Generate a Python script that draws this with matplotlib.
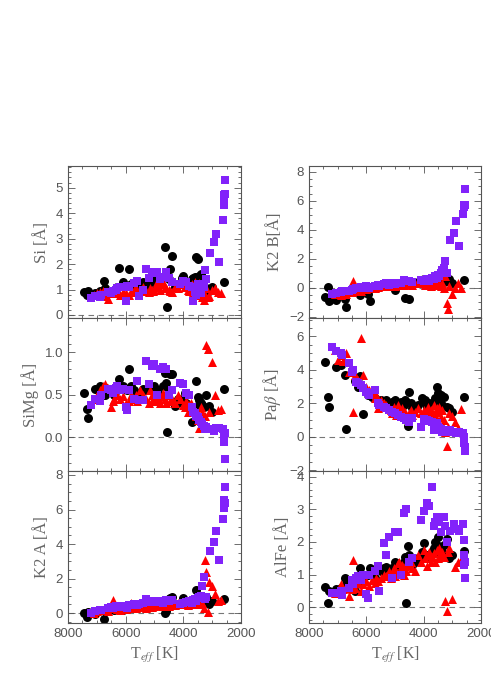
import numpy as np
import matplotlib
matplotlib.use('Agg')
import matplotlib.pyplot as plt
from matplotlib.ticker import MultipleLocator

plt.rcParams['font.family'] = ['Liberation Sans', 'DejaVu Sans']
plt.rcParams['mathtext.fontset'] = 'stix'

# black circles
t_blk = [7430, 7350, 7300, 7060, 6900, 6750, 6700, 6400, 6300, 6220, 6100, 5950, 5880, 5800, 5700,
         5500, 5400, 5300, 5200, 5100, 5000, 4950, 4900, 4800, 4700, 4650, 4600, 4550, 4500, 4450,
         4400, 4300, 4200, 4050, 4000, 3950, 3900, 3800, 3700, 3650, 3600, 3550, 3500, 3450, 3400,
         3350, 3300, 3200, 3100, 3000, 2600]
si_blk = [0.92, 0.78, 0.95, 0.85, 0.95, 1.32, 1.05, 0.95, 1.1, 1.86, 1.3, 1.15, 1.8, 1.2, 1.05,
          1.2, 1.3, 1.1, 1.25, 1.4, 1.5, 1.2, 1.45, 1.3, 1.5, 2.68, 1.55, 0.33, 1.4, 1.8,
          2.3, 1.1, 1.2, 1.45, 1.55, 1.3, 1.1, 1.2, 1.4, 1.45, 1.5, 2.27, 2.2, 1.55, 1.6,
          1.3, 1.1, 1.05, 0.95, 1.1, 1.29]
simg_blk = [0.52, 0.33, 0.22, 0.56, 0.6, 0.59, 0.5, 0.5, 0.55, 0.68, 0.6, 0.55, 0.8, 0.6, 0.55,
            0.5, 0.56, 0.55, 0.59, 0.55, 0.6, 0.52, 0.55, 0.5, 0.6, 0.75, 0.64, 0.055, 0.55, 0.74,
            0.74, 0.36, 0.45, 0.4, 0.45, 0.52, 0.4, 0.35, 0.18, 0.3, 0.35, 0.66, 0.47, 0.43, 0.4,
            0.38, 0.35, 0.49, 0.36, 0.3, 0.57]
k2a_blk = [0.0, -0.25, 0.05, -0.05, 0.15, -0.37, 0.1, 0.2, 0.25, 0.3, 0.2, 0.3, 0.35, 0.3, 0.4,
           0.45, 0.5, 0.4, 0.55, 0.5, 0.6, 0.5, 0.55, 0.6, 0.6, 0.0, 0.1, 0.6, 0.8, 0.85,
           0.91, 0.5, 0.55, 0.6, 0.85, 0.7, 0.6, 0.7, 0.6, 0.65, 0.7, 1.33, 0.9, 0.7, 0.8,
           0.6, 0.7, 0.9, 0.5, 0.7, 0.79]
k2b_blk = [-0.62, 0.07, -0.9, -0.85, -0.5, -0.8, -1.3, -0.3, -0.2, -0.5, -0.1, -0.4, -0.9, 0.0, 0.0,
           0.1, 0.1, 0.2, 0.15, 0.2, -0.15, 0.2, 0.3, 0.25, 0.3, -0.7, 0.3, 0.35, -0.75, 0.3,
           0.4, 0.3, 0.4, 0.5, 0.6, 0.4, 0.45, 0.5, 0.4, 0.5, 0.5, 0.6, 0.5, 0.4, 0.5,
           0.6, 0.4, 0.5, 0.6, 0.3, 0.55]
pab_blk = [4.45, 2.38, 1.76, 4.2, 4.3, 3.7, 0.46, 3.36, 3.0, 3.65, 1.38, 2.5, 2.6, 2.4, 2.3,
           2.2, 2.1, 2.2, 2.0, 2.1, 2.2, 1.9, 2.0, 2.1, 1.9, 2.2, 2.1, 0.62, 2.7, 2.0,
           1.7, 1.8, 1.9, 2.3, 2.1, 2.2, 1.8, 2.0, 1.9, 2.1, 2.3, 3.0, 2.6, 2.2, 2.5,
           1.9, 2.4, 1.8, 1.7, 1.5, 2.38]
alfe_blk = [0.63, 0.14, 0.5, 0.55, 0.6, 0.89, 0.7, 0.5, 0.9, 1.19, 0.8, 1.0, 1.19, 1.05, 0.9,
            1.1, 1.2, 1.22, 1.0, 1.2, 1.4, 1.3, 1.2, 1.3, 1.4, 1.55, 0.12, 1.87, 1.6, 1.5,
            1.3, 1.4, 1.5, 1.7, 1.98, 1.55, 1.6, 1.5, 1.7, 1.8, 2.0, 1.9, 2.16, 1.7, 1.8,
            1.7, 1.9, 2.1, 1.5, 1.6, 1.73]

# red triangles
t_red = [7100, 7000, 6900, 6800, 6700, 6600, 6500, 6450, 6400, 6300, 6200, 6100, 6000, 5900, 5800,
         5700, 5650, 5600, 5500, 5400, 5300, 5200, 5150, 5100, 5050, 5000, 4950, 4900, 4850, 4800,
         4750, 4700, 4650, 4600, 4500, 4450, 4400, 4300, 4200, 4100, 4000, 3950, 3900, 3850, 3800,
         3750, 3700, 3650, 3600, 3550, 3500, 3450, 3400, 3350, 3300, 3250, 3200, 3150, 3100, 3000,
         2900, 2800, 2700]
si_red = [0.8, 0.85, 0.9, 0.95, 0.75, 0.63, 0.85, 0.9, 0.95, 0.85, 0.8, 0.9, 0.85, 0.8, 0.9,
          1.0, 1.05, 0.9, 1.0, 1.1, 0.95, 0.9, 1.05, 1.0, 0.95, 1.0, 1.1, 1.3, 1.2, 1.0,
          1.25, 1.3, 1.1, 1.05, 1.0, 0.95, 0.9, 1.1, 1.05, 1.3, 1.2, 1.1, 1.3, 1.0, 0.95,
          1.1, 1.2, 0.9, 1.3, 0.8, 1.1, 1.25, 0.85, 0.7, 0.6, 0.8, 1.05, 0.7, 0.75, 1.0,
          1.05, 0.9, 0.85]
simg_red = [0.45, 0.5, 0.55, 0.6, 0.62, 0.58, 0.35, 0.42, 0.45, 0.5, 0.45, 0.48, 0.4, 0.42, 0.5,
            0.45, 0.5, 0.42, 0.55, 0.5, 0.45, 0.4, 0.55, 0.5, 0.45, 0.42, 0.48, 0.5, 0.45, 0.4,
            0.48, 0.52, 0.45, 0.4, 0.5, 0.42, 0.45, 0.4, 0.5, 0.45, 0.38, 0.35, 0.42, 0.3, 0.38,
            0.4, 0.33, 0.35, 0.3, 0.25, 0.2, 0.11, 0.35, 0.3, 0.15, 0.25, 1.08, 1.04, 0.3, 0.88,
            0.5, 0.32, 0.33]
k2a_red = [0.0, 0.1, 0.2, 0.15, 0.2, 0.1, 0.3, 0.75, 0.3, 0.25, 0.2, 0.3, 0.25, 0.3, 0.6,
           0.35, 0.3, 0.4, 0.35, 0.4, 0.3, 0.45, 0.4, 0.35, 0.5, 0.4, 0.45, 0.5, 0.6, 0.45,
           0.4, 0.55, 0.5, 0.45, 0.4, 0.55, 0.5, 0.45, 0.6, 0.5, 0.55, 0.6, 0.5, 0.45, 0.6,
           0.55, 0.7, 0.5, 0.6, 0.55, 0.7, 0.5, 0.65, 0.6, 0.3, 3.07, 2.36, 0.05, 1.8, 1.56,
           1.08, 0.7, 0.75]
k2b_red = [-0.4, -0.3, -0.5, -0.3, -0.4, -0.2, -0.3, 0.5, -0.2, -0.1, -0.2, 0.0, -0.1, 0.0, 0.1,
           0.0, 0.1, 0.05, 0.1, 0.15, 0.1, 0.2, 0.1, 0.2, 0.15, 0.1, 0.2, 0.25, 0.2, 0.3,
           0.25, 0.2, 0.3, 0.25, 0.35, 0.3, 0.2, 0.3, 0.35, 0.4, 0.3, 0.2, 0.35, 0.4, 0.3,
           0.1, 0.4, 0.3, 0.2, 0.3, 0.4, 0.2, 0.1, 0.3, 0.0, 0.8, -1.03, -1.48, 0.1, -0.43,
           0.0, 0.3, 0.0]
pab_red = [5.2, 4.6, 4.9, 4.5, 5.0, 3.9, 4.0, 1.46, 3.7, 3.4, 5.9, 3.7, 3.0, 2.8, 2.6,
           2.3, 2.5, 1.7, 2.2, 2.0, 1.9, 1.7, 1.6, 1.4, 1.8, 1.5, 1.3, 1.9, 1.6, 1.4,
           1.7, 1.3, 1.5, 1.2, 1.4, 1.6, 1.3, 1.5, 1.7, 1.4, 1.6, 1.3, 1.5, 1.8, 1.4,
           1.6, 1.5, 1.9, 1.3, 1.7, 1.5, 1.8, 1.2, 1.6, 1.0, 0.3, -0.54, 0.6, 1.4, 1.25,
           0.9, 0.5, 1.65]
alfe_red = [0.45, 0.5, 0.7, 0.55, 0.6, 0.35, 0.55, 1.45, 0.6, 0.75, 0.5, 0.7, 0.8, 0.65, 0.85,
            0.75, 0.9, 0.8, 0.9, 1.0, 0.95, 1.1, 0.9, 1.0, 1.2, 0.95, 1.1, 1.35, 1.4, 1.2,
            1.3, 1.0, 1.25, 1.1, 1.3, 1.4, 1.2, 1.1, 1.6, 1.4, 1.75, 1.5, 1.25, 1.6, 1.7,
            1.4, 1.55, 1.65, 1.4, 1.75, 1.5, 1.8, 1.6, 1.7, 1.55, 0.2, -0.1, 1.7, 1.8, 0.24,
            1.22, 1.4, 1.45]

# purple squares
t_pur = [7200, 7050, 6900, 6850, 6600, 6500, 6450, 6350, 6300, 6200, 6100, 6000, 5950, 5900, 5700,
         5600, 5550, 5400, 5300, 5200, 5100, 5000, 4900, 4800, 4700, 4600, 4500, 4400, 4100, 4000,
         3900, 3800, 3700, 3650, 3600, 3550, 3500, 3450, 3400, 3350, 3300, 3250, 3200, 3090, 2950,
         2880, 2750, 2620, 2600, 2590, 2580, 2570, 2560]
si_pur = [0.68, 0.75, 0.7, 0.78, 0.9, 0.85, 0.95, 1.0, 1.05, 1.1, 1.1, 0.56, 1.15, 1.1, 1.25,
          1.32, 0.75, 1.0, 1.8, 1.45, 1.65, 1.7, 1.7, 1.4, 1.5, 1.68, 1.45, 1.3, 1.2, 1.35,
          1.3, 1.15, 1.1, 0.55, 0.9, 0.8, 1.2, 0.95, 0.85, 1.2, 1.1, 1.75, 1.4, 2.44, 2.88,
          3.2, 2.08, 3.73, 4.33, 4.5, 4.7, 4.75, 5.3]
simg_pur = [0.38, 0.45, 0.42, 0.5, 0.57, 0.55, 0.52, 0.58, 0.6, 0.55, 0.56, 0.35, 0.32, 0.55, 0.45,
            0.66, 0.44, 0.44, 0.9, 0.62, 0.83, 0.86, 0.5, 0.8, 0.82, 0.8, 0.5, 0.55, 0.63, 0.62,
            0.52, 0.5, 0.35, 0.3, 0.28, 0.25, 0.23, 0.2, 0.18, 0.15, 0.13, 0.1, 0.12, 0.1, 0.07,
            0.11, 0.11, 0.1, 0.0, -0.03, -0.06, 0.05, -0.26]
k2a_pur = [0.0, 0.1, 0.2, 0.15, 0.3, 0.35, 0.3, 0.4, 0.35, 0.4, 0.35, 0.4, 0.3, 0.45, 0.5,
           0.45, 0.55, 0.6, 0.8, 0.65, 0.7, 0.7, 0.65, 0.7, 0.6, 0.75, 0.7, 0.75, 0.55, 0.6,
           0.65, 0.7, 0.6, 0.75, 0.8, 0.7, 0.85, 0.9, 1.0, 1.57, 2.1, 0.8, 0.9, 3.6, 4.13,
           4.77, 3.07, 5.43, 6.07, 6.2, 6.55, 6.4, 7.29]
k2b_pur = [-0.45, -0.35, -0.3, -0.25, -0.2, -0.15, -0.1, 0.0, -0.05, 0.05, 0.0, 0.1, 0.05, 0.0, 0.15,
           0.2, 0.1, 0.25, 0.3, 0.2, 0.3, 0.25, 0.35, 0.3, 0.55, 0.5, 0.45, 0.4, 0.55, 0.5,
           0.6, 0.5, 0.7, 0.6, 0.8, 0.7, 0.9, 0.8, 1.0, 1.2, 1.4, 1.85, 1.0, 3.3, 3.75,
           4.6, 2.9, 5.1, 5.55, 5.7, 5.6, 5.75, 6.8]
pab_pur = [5.37, 5.1, 5.0, 4.9, 4.4, 3.9, 4.0, 3.3, 3.2, 3.1, 2.9, 2.7, 2.6, 2.5, 2.8,
           2.0, 1.9, 1.8, 1.7, 1.6, 1.5, 1.4, 1.3, 1.2, 1.1, 1.0, 0.9, 1.1, 0.58, 1.05,
           1.0, 0.95, 0.9, 0.4, 0.7, 0.8, 0.6, 0.5, 0.45, 0.3, 0.4, 0.35, 0.3, 0.4, 0.3,
           0.25, 0.3, 0.2, 0.0, -0.2, -0.4, -0.6, -0.85]
alfe_pur = [0.43, 0.45, 0.5, 0.38, 0.6, 0.85, 0.7, 0.9, 0.95, 0.85, 1.0, 0.42, 0.27, 1.0, 1.1,
            1.25, 0.5, 1.96, 1.6, 2.15, 0.9, 2.3, 2.3, 1.0, 2.9, 3.0, 1.4, 1.5, 2.68, 2.95,
            3.2, 3.1, 3.67, 2.5, 2.6, 2.75, 2.7, 2.6, 2.3, 2.75, 2.75, 2.5, 2.0, 2.35, 2.55,
            2.4, 2.35, 2.55, 2.05, 1.6, 1.3, 1.4, 0.89]

fig = plt.figure(figsize=(4.91, 6.93), dpi=100)

grey = '#555555'
purple = '#8222fa'
serif = ['Liberation Serif', 'DejaVu Serif']

# label, values (black, red, purple), ylim, major, minor, position
panels = [
    ('Si [Å]', si_blk, si_red, si_pur, (-0.12, 5.85), 1, 0.2, [0.1385, 0.5411, 0.3523, 0.2193]),
    ('SiMg [Å]', simg_blk, simg_red, simg_pur, (-0.40, 1.40), 0.5, 0.1, [0.1385, 0.3203, 0.3523, 0.2208]),
    ('K2 A [Å]', k2a_blk, k2a_red, k2a_pur, (-0.58, 8.23), 2, 0.5, [0.1385, 0.1010, 0.3523, 0.2193]),
    ('K2 B[Å]', k2b_blk, k2b_red, k2b_pur, (-2.09, 8.41), 2, 0.5, [0.6293, 0.5411, 0.3503, 0.2193]),
    (r'Pa$\beta$ [Å]', pab_blk, pab_red, pab_pur, (-2.05, 7.10), 2, 0.5, [0.6293, 0.3203, 0.3503, 0.2208]),
    ('AlFe [Å]', alfe_blk, alfe_red, alfe_pur, (-0.48, 4.17), 1, 0.2, [0.6293, 0.1010, 0.3503, 0.2193]),
]

for i, (lab, vb, vr, vp, ylim, maj, mnr, pos) in enumerate(panels):
    ax = fig.add_axes(pos)
    ax.axhline(0, color='#777777', ls=(0, (5, 4)), lw=0.8, zorder=1)
    ax.scatter(t_blk, vb, marker='o', s=42, c='black', linewidths=0, zorder=2)
    ax.scatter(t_red, vr, marker='^', s=42, c='red', linewidths=0, zorder=3)
    ax.scatter(t_pur, vp, marker='s', s=40, c=purple, linewidths=0, zorder=4)
    ax.set_xlim(8000, 2000)
    ax.set_ylim(*ylim)
    ax.xaxis.set_major_locator(MultipleLocator(2000))
    ax.xaxis.set_minor_locator(MultipleLocator(500))
    ax.yaxis.set_major_locator(MultipleLocator(maj))
    ax.yaxis.set_minor_locator(MultipleLocator(mnr))
    ax.tick_params(which='both', direction='in', top=True, right=True, colors=grey,
                   labelsize=9.5, width=0.6)
    ax.tick_params(which='major', length=5)
    ax.tick_params(which='minor', length=2.5)
    for sp in ax.spines.values():
        sp.set_color(grey)
        sp.set_linewidth(0.8)
    ax.set_ylabel(lab, family=serif, fontsize=12, color='#666666')
    if i in (2, 5):
        ax.set_xlabel(r'T$_{\mathit{eff}}$ [K]', family=serif, fontsize=11.5, color='#666666')
    else:
        ax.tick_params(labelbottom=False)

fig.savefig('out.png', dpi=100)
